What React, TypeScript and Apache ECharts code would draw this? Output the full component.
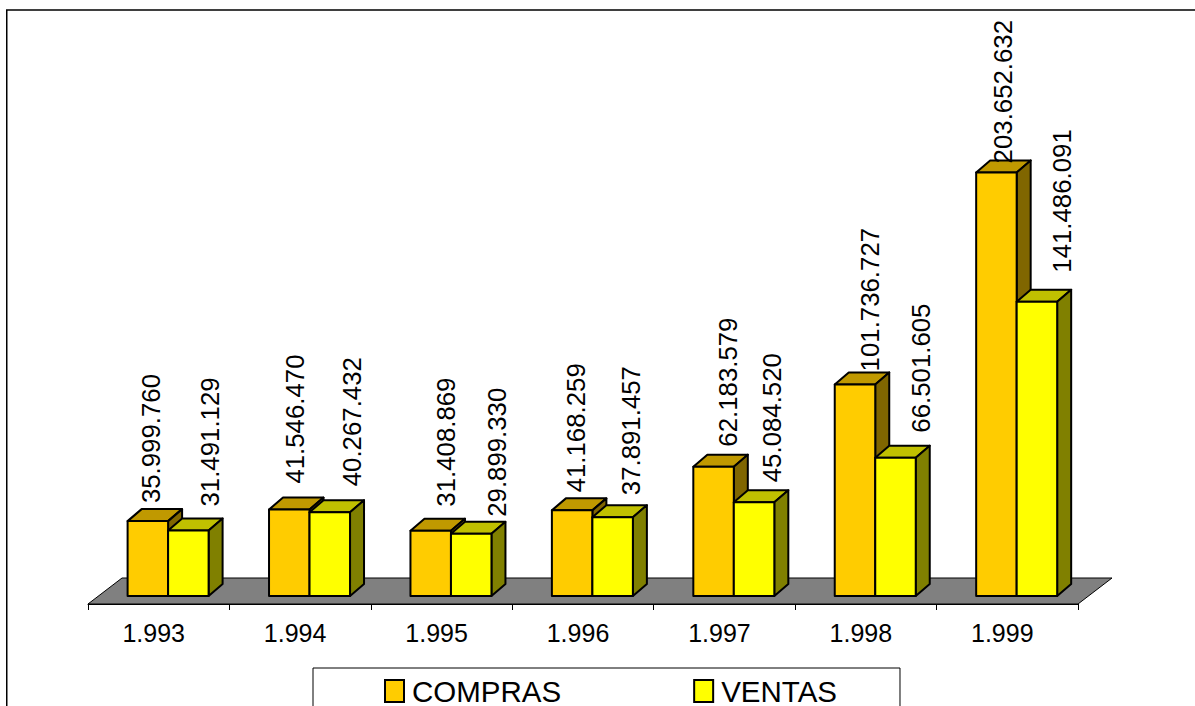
import React, { useEffect, useRef } from "react";
import * as echarts from "echarts";

const years = ["1.993", "1.994", "1.995", "1.996", "1.997", "1.998", "1.999"];
const compras = [35999760, 41546470, 31408869, 41168259, 62183579, 101736727, 203652632];
const ventas = [31491129, 40267432, 29899330, 37891457, 45084520, 66501605, 141486091];
const comprasLabels = ["35.999.760", "41.546.470", "31.408.869", "41.168.259", "62.183.579", "101.736.727", "203.652.632"];
const ventasLabels = ["31.491.129", "40.267.432", "29.899.330", "37.891.457", "45.084.520", "66.501.605", "141.486.091"];

// label placement relative to the bar (Excel's own staggered placement)
const comprasLabelDx = [3, 6, 15, 4, 14, 15, 7];
const comprasLabelGap = [18, 26, 24, 18, 20, 13, 9];
const ventasLabelDx = [22, 22, 26, 18, 18, 26, 25];
const ventasLabelGap = [24, 26, 17, 22, 20, 25, 29];

const FONT = '"Liberation Sans", Arial, sans-serif';
const DEPTH_X = 14;
const DEPTH_Y = 12;
const FLOOR_RISE = 8;
const BAR_W = 40.5;

function barSeries(
  name: string,
  values: number[],
  labels: string[],
  dx: number[],
  gap: number[],
  startOffset: number,
  front: string,
  top: string,
  side: string
) {
  return {
    type: "custom",
    name,
    coordinateSystem: "cartesian2d",
    itemStyle: { color: front, borderColor: "#000", borderWidth: 2 },
    data: values.map((v, i) => [i, v]),
    encode: { x: 0, y: 1 },
    z: 3,
    renderItem: (params: any, api: any) => {
      const i = api.value(0);
      const v = api.value(1);
      const p = api.coord([i, v]);
      const b = api.coord([i, 0]);
      const band = api.size([1, 0])[0];
      const x0 = p[0] - band / 2 + startOffset;
      const x1 = x0 + BAR_W;
      const yt = p[1] - FLOOR_RISE;
      const yb = b[1] - FLOOR_RISE;
      const stroke = { stroke: "#000", lineWidth: 2, lineJoin: "round" };
      return {
        type: "group",
        children: [
          {
            type: "polygon",
            shape: { points: [[x0, yt], [x1, yt], [x1 + DEPTH_X, yt - DEPTH_Y], [x0 + DEPTH_X, yt - DEPTH_Y]] },
            style: { fill: top, ...stroke },
          },
          {
            type: "polygon",
            shape: { points: [[x1, yt], [x1 + DEPTH_X, yt - DEPTH_Y], [x1 + DEPTH_X, yb - DEPTH_Y], [x1, yb]] },
            style: { fill: side, ...stroke },
          },
          {
            type: "rect",
            shape: { x: x0, y: yt, width: BAR_W, height: yb - yt },
            style: { fill: front, ...stroke },
          },
          {
            type: "text",
            x: (x0 + x1) / 2 + dx[i],
            y: yt - gap[i],
            rotation: Math.PI / 2,
            style: {
              text: labels[i],
              fill: "#000",
              font: `25.8px ${FONT}`,
              align: "left",
              verticalAlign: "middle",
            },
            z2: 10,
          },
        ],
      };
    },
  };
}

export default function App() {
  const ref = useRef<HTMLDivElement>(null);
  useEffect(() => {
    document.body.style.margin = "0";
    document.body.style.overflow = "hidden";
    const chart = echarts.init(ref.current!, undefined, { renderer: "svg" });
    chart.setOption({
      animation: false,
      backgroundColor: "#fff",
      graphic: [
        {
          type: "rect",
          shape: { x: 6.75, y: 10, width: 1300, height: 800 },
          style: { fill: "none", stroke: "#000", lineWidth: 1.5 },
          z: 0,
        },
      ],
      grid: { left: 88, top: 84, width: 990, height: 520, containLabel: false },
      legend: {
        data: ["COMPRAS", "VENTAS"],
        left: 313,
        top: 668,
        padding: [8, 63, 40, 71],
        backgroundColor: "#fff",
        borderColor: "#000",
        borderWidth: 1,
        itemWidth: 19,
        itemHeight: 22,
        itemGap: 132,
        icon: "rect",
        selectedMode: false,
        textStyle: { fontFamily: FONT, fontSize: 29.5, color: "#000", padding: [0, 0, 5, 3], lineHeight: 24 },
      },
      xAxis: {
        type: "category",
        data: years,
        boundaryGap: true,
        axisLine: { show: true, lineStyle: { color: "#000", width: 1 } },
        axisTick: { show: true, alignWithLabel: false, length: 6, lineStyle: { color: "#000", width: 1 } },
        axisLabel: { fontFamily: FONT, fontSize: 25, color: "#000", margin: 16, padding: [0, 10, 0, 0] },
      },
      yAxis: { type: "value", min: 0, max: 250000000, show: false, splitLine: { show: false } },
      series: [
        {
          type: "custom",
          name: "floor",
          coordinateSystem: "cartesian2d",
          data: [[0, 0]],
          silent: true,
          z: 2,
          renderItem: (params: any, api: any) => {
            const c = params.coordSys;
            const yb = c.y + c.height;
            return {
              type: "polygon",
              shape: {
                points: [
                  [c.x, yb],
                  [c.x + c.width, yb],
                  [c.x + c.width + 34, yb - 26],
                  [c.x + 34, yb - 26],
                ],
              },
              style: { fill: "#808080", stroke: "#000", lineWidth: 1 },
            };
          },
        },
        barSeries("COMPRAS", compras, comprasLabels, comprasLabelDx, comprasLabelGap, 39.6, "#FFCC00", "#C09900", "#806600"),
        barSeries("VENTAS", ventas, ventasLabels, ventasLabelDx, ventasLabelGap, 80.1, "#FFFF00", "#C0C000", "#808000"),
      ],
    });
    return () => chart.dispose();
  }, []);
  return <div ref={ref} style={{ width: 1195, height: 706 }} />;
}
